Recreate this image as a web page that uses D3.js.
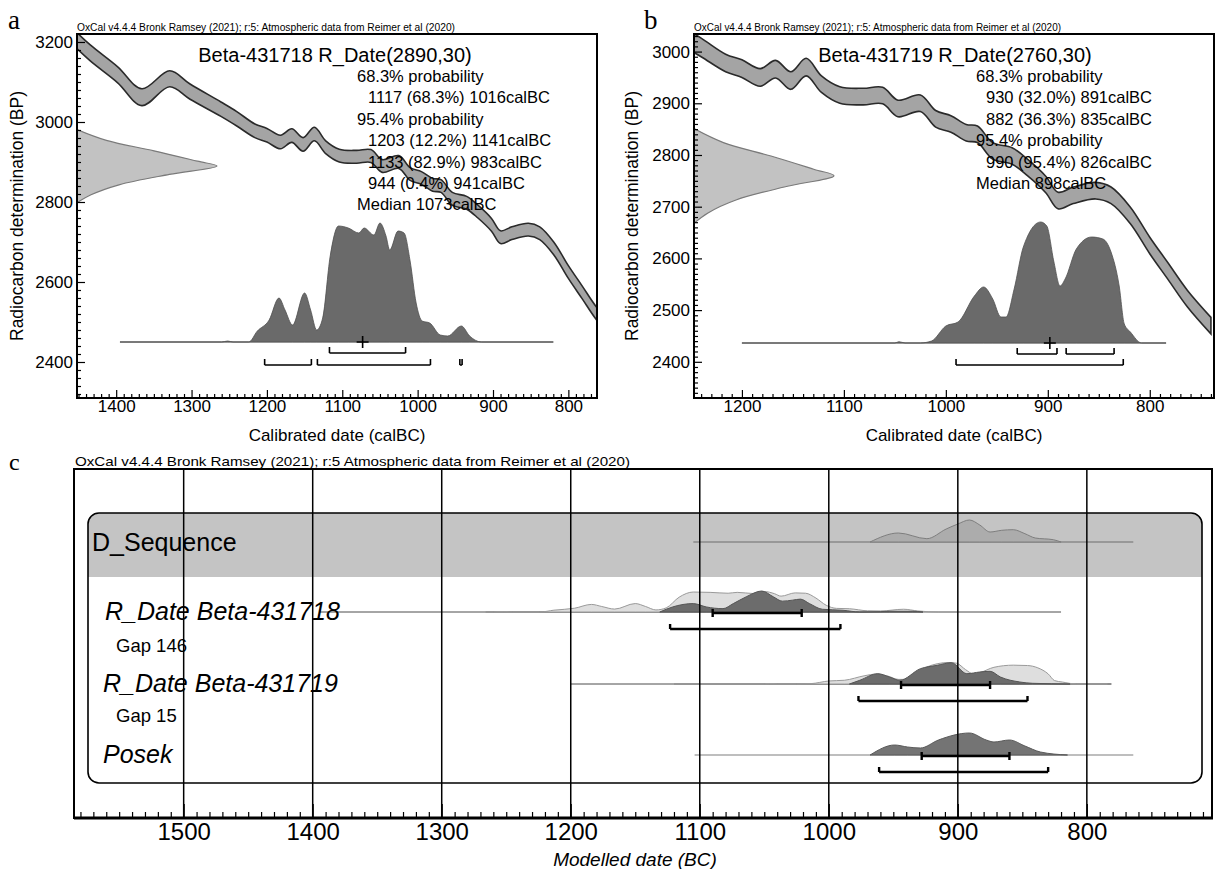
<!DOCTYPE html>
<html>
<head>
<meta charset="utf-8">
<script src="https://cdn.jsdelivr.net/npm/d3@7"></script>
<style>
  body { margin: 0; background: #fff; }
  svg { display: block; font-family: "Liberation Sans", Arial, sans-serif; }
  .tick line { stroke: #000; stroke-width: 1.2; }
  .tick text { fill: #000; }
</style>
</head>
<body>
<svg id="fig" width="1217" height="869"></svg>
<script>
const calYears = [1453, 1434, 1398, 1366, 1329, 1302, 1261, 1240, 1216, 1200, 1182, 1167, 1152, 1137, 1122, 1104, 1081, 1062, 1047, 1025, 1010, 995, 980, 969, 954, 935, 920, 902, 890, 875, 853, 838, 819, 800, 782, 763, 740];
const calBP = [3205, 3172, 3118, 3062, 3108, 3076, 3032, 3008, 2978, 2967, 2950, 2966, 2944, 2970, 2937, 2916, 2913, 2915, 2890, 2900, 2870, 2860, 2843, 2840, 2808, 2798, 2776, 2743, 2712, 2722, 2731, 2722, 2683, 2625, 2575, 2522, 2470];
const calSigma = [20, 20, 20, 21, 20, 19, 18, 18, 17, 17, 17, 17, 17, 17, 16, 16, 16, 16, 16, 16, 16, 16, 16, 16, 16, 16, 16, 16, 16, 16, 16, 16, 16, 16, 16, 16, 16];

// radiocarbon measurement shape (BP offset from the mean, relative density)
const rdOffsets = [-92, -72, -47, -21, 0, 12, 38, 64, 91];
const rdDensity = [0, 0.1, 0.3, 0.66, 1, 0.86, 0.55, 0.21, 0];

// --- Panel a: Beta-431718 ---
const distAYears = [1395, 1260, 1252, 1245, 1224, 1213, 1197, 1184, 1176, 1166, 1150, 1142, 1134, 1126, 1116, 1105, 1092, 1078, 1071, 1058, 1050, 1042, 1037, 1026, 1018, 1010, 1002, 994, 984, 970, 960, 942, 931, 915, 820];
const distAProb = [0, 0, 1, 0, 0, 10.7, 22, 44, 32, 17, 49, 32, 12, 24, 86, 116, 114, 109, 114, 107, 119, 106, 92, 111, 109, 81, 39, 21, 19, 7, 6, 16, 6, 0, 0];
const rangesA68 = [[1117, 1016, 68.3]];
const rangesA95 = [[1203, 1141, 12.2], [1133, 983, 82.9], [944, 941, 0.4]];
const medianA = 1073;
const ticksAX = [1400, 1300, 1200, 1100, 1000, 900, 800];
const ticksAY = [2400, 2600, 2800, 3000, 3200];

// --- Panel b: Beta-431719 ---
const distBYears = [1200, 1050, 1046, 1040, 1025, 1014, 1000, 988, 972, 963, 954, 946, 941, 933, 924, 907, 901, 894, 888, 883, 872, 857, 846, 838, 830, 825, 819, 808, 784];
const distBProb = [0, 0, 1.3, 0, 0, 2, 17, 21, 47, 56, 44, 26, 26, 54, 96, 121, 117, 81, 57, 64, 94, 106, 104, 91, 57, 19, 11, 0, 0];
const rangesB68 = [[930, 891, 32.0], [882, 835, 36.3]];
const rangesB95 = [[990, 826, 95.4]];
const medianB = 898;
const ticksBX = [1200, 1100, 1000, 900, 800];
const ticksBY = [2400, 2500, 2600, 2700, 2800, 2900, 3000];

// --- Panel c: sequence model ---
const seqYears = [968, 946, 924, 909, 900, 891, 883, 875, 866, 857, 848, 840, 826, 820];
const seqProb = [0, 9, 3.3, 13, 18, 22, 17, 10, 11.7, 12.3, 8.3, 4, 2.3, 0];
const post718Years = [1131, 1121, 1105, 1095, 1082, 1074, 1064, 1052, 1043, 1036, 1028, 1022, 1015, 1005, 989, 976, 960, 953, 935, 927];
const post718Prob = [0, 5, 8.3, 5, 3.3, 8.3, 15, 20.7, 15, 10.7, 11.7, 12.7, 8.3, 2.7, 1.7, 0, 0.3, 0.7, 0.7, 0];
const post719Years = [984, 976, 962, 953, 945, 929, 916, 905, 893, 883, 875, 867, 852, 842, 813];
const post719Prob = [0, 3.7, 10.3, 7, 3.7, 15.3, 18.7, 21.3, 10.3, 12, 12.7, 7, 2, 0.7, 0];
const posekYears = [968, 949, 939, 929, 915, 891, 878, 872, 860, 848, 836, 815];
const posekProb = [0, 10, 8, 7, 15, 22, 15, 13, 15, 9, 3, 0];
// [68% from, to], [95% from, to]
const c718Ranges = [[1090, 1021], [1123, 991]];
const c719Ranges = [[944, 875], [977, 846]];
const posekRanges = [[928, 860], [961, 830]];
const ticksCX = [1500, 1400, 1300, 1200, 1100, 1000, 900, 800];

const oxcalNote = "OxCal v4.4.4 Bronk Ramsey (2021); r:5: Atmospheric data from Reimer et al (2020)";
const oxcalNoteC = "OxCal v4.4.4 Bronk Ramsey (2021); r:5 Atmospheric data from Reimer et al (2020)";

const svg = d3.select("#fig");
const defs = svg.append("defs");

function bracket(g, xa, xb, y, up, down, width) {
    g.append("path")
        .attr("d", `M${xa},${y - up}V${y + down}M${xa},${y}H${xb}M${xb},${y - up}V${y + down}`)
        .attr("fill", "none")
        .attr("stroke", "#000")
        .attr("stroke-width", width);
}

function fmtRange(r) {
    return `${r[0]} (${r[2].toFixed(1)}%) ${r[1]}calBC`;
}

// --- Single date calibration panel ---
function drawCalPanel(p) {
    const g = svg.append("g");
    const [x0, x1] = p.x.range();
    const [yb, yt] = p.y.range();

    defs.append("clipPath").attr("id", p.id + "-clip")
        .append("rect").attr("x", x0).attr("y", yt).attr("width", x1 - x0).attr("height", yb - yt);
    const inner = g.append("g").attr("clip-path", `url(#${p.id}-clip)`);

    // measurement on the y axis
    const w = d3.scaleLinear().domain([0, 1]).range([0, 140]);
    inner.append("path")
        .datum(rdOffsets.map((o, i) => [p.bp + o, rdDensity[i]]))
        .attr("d", d3.area().curve(d3.curveCatmullRom)
            .y((d) => p.y(d[0])).x0(x0).x1((d) => x0 + w(d[1])))
        .attr("fill", "#c2c2c2").attr("stroke", "#7a7a7a").attr("stroke-width", 1.2);

    // calibration curve band
    const cal = calYears.map((yr, i) => ({ yr, bp: calBP[i], s: calSigma[i] }));
    inner.append("path")
        .datum(cal)
        .attr("d", d3.area().curve(d3.curveCatmullRom)
            .x((d) => p.x(d.yr)).y0((d) => p.y(d.bp - d.s)).y1((d) => p.y(d.bp + d.s)))
        .attr("fill", "#a4a4a4").attr("stroke", "#2a2a2a").attr("stroke-width", 1.6);

    // calibrated distribution
    const h = d3.scaleLinear().domain([0, d3.max(p.prob)]).range([0, p.peak]);
    const dist = p.years.map((yr, i) => [yr, p.prob[i]]);
    inner.append("line")
        .attr("x1", p.x(p.years[0])).attr("x2", p.x(p.years[p.years.length - 1]))
        .attr("y1", p.base).attr("y2", p.base)
        .attr("stroke", "#8a8a8a").attr("stroke-width", 1.2);
    inner.append("path")
        .datum(dist)
        .attr("d", d3.area().curve(d3.curveMonotoneX)
            .x((d) => p.x(d[0])).y0(p.base).y1((d) => p.base - h(d[1])))
        .attr("fill", "#6a6a6a").attr("stroke", "#505050").attr("stroke-width", 0.8);

    // ranges
    p.r68.forEach((r) => bracket(g, p.x(r[0]), p.x(r[1]), p.b68, 6, 0, 1.6));
    p.r95.forEach((r) => bracket(g, p.x(r[0]), p.x(r[1]), p.b95, 6, 0, 1.6));
    const mx = p.x(p.median);
    g.append("path")
        .attr("d", `M${mx - 6},${p.base}H${mx + 6}M${mx},${p.base - 6}V${p.base + 6}`)
        .attr("stroke", "#000").attr("stroke-width", 1.6);

    // text block
    g.append("text").attr("x", p.titleX).attr("y", 62).attr("text-anchor", "middle")
        .attr("font-size", 20).text(p.title);
    const lines = [["68.3% probability", 0]]
        .concat(p.r68.map((r) => [fmtRange(r), 1]))
        .concat([["95.4% probability", 0]])
        .concat(p.r95.map((r) => [fmtRange(r), 1]))
        .concat([[`Median ${p.median}calBC`, 0]]);
    lines.forEach((l, i) => {
        g.append("text")
            .attr("x", p.textX + (l[1] ? p.indent : 0))
            .attr("y", 82 + i * 21.4)
            .attr("font-size", 16.5)
            .text(l[0]);
    });

    // frame and axes
    g.append("rect").attr("x", x0).attr("y", yt).attr("width", x1 - x0).attr("height", yb - yt)
        .attr("fill", "none").attr("stroke", "#000").attr("stroke-width", 2);

    const [dx0, dx1] = p.x.domain();
    const minorX = d3.range(700, 1500, 10).filter((v) => v < dx0 && v > dx1 && !p.ticksX.includes(v));
    g.append("g").attr("transform", `translate(0,${yb})`)
        .call(d3.axisBottom(p.x).tickValues(minorX).tickSize(-4).tickFormat(""))
        .call((a) => a.select(".domain").remove());
    g.append("g").attr("transform", `translate(0,${yb})`)
        .call(d3.axisBottom(p.x).tickValues(p.ticksX).tickSize(-8).tickPadding(2).tickFormat(d3.format("d")))
        .call((a) => a.select(".domain").remove())
        .selectAll("text").attr("font-size", 17).attr("font-family", "Liberation Sans, Arial, sans-serif");

    const [dy0, dy1] = p.y.domain();
    const minorY = d3.range(2300, 3300, p.minorY).filter((v) => v > dy0 && v < dy1 && !p.ticksY.includes(v));
    g.append("g").attr("transform", `translate(${x0},0)`)
        .call(d3.axisLeft(p.y).tickValues(minorY).tickSize(-4).tickFormat(""))
        .call((a) => a.select(".domain").remove());
    g.append("g").attr("transform", `translate(${x0},0)`)
        .call(d3.axisLeft(p.y).tickValues(p.ticksY).tickSize(-8).tickPadding(4).tickFormat(d3.format("d")))
        .call((a) => a.select(".domain").remove())
        .selectAll("text").attr("font-size", 17).attr("font-family", "Liberation Sans, Arial, sans-serif");

    g.append("text").attr("x", (x0 + x1) / 2).attr("y", 441).attr("text-anchor", "middle")
        .attr("font-size", 17).text("Calibrated date (calBC)");
    g.append("text")
        .attr("transform", `translate(${p.yTitleX},${(yt + yb) / 2}) rotate(-90)`)
        .attr("text-anchor", "middle").attr("font-size", 17.5)
        .text("Radiocarbon determination (BP)");

    g.append("text").attr("x", x0).attr("y", 31).attr("font-size", 10)
        .attr("textLength", p.noteLen).attr("lengthAdjust", "spacingAndGlyphs").text(oxcalNote);
    g.append("text").attr("x", p.letterX).attr("y", 29).attr("font-size", 27)
        .attr("font-family", "Liberation Serif, Times New Roman, serif").text(p.letter);
}

drawCalPanel({
    id: "pa", letter: "a", letterX: 8,
    x: d3.scaleLinear().domain([1452, 762]).range([77, 597]),
    y: d3.scaleLinear().domain([2310, 3220]).range([398, 34]),
    bp: 2890, title: "Beta-431718 R_Date(2890,30)", titleX: 335,
    years: distAYears, prob: distAProb, peak: 119, base: 342,
    r68: rangesA68, r95: rangesA95, median: medianA, b68: 353, b95: 365,
    textX: 357, indent: 11,
    ticksX: ticksAX, ticksY: ticksAY, minorY: 20,
    yTitleX: 23, noteLen: 378
});

drawCalPanel({
    id: "pb", letter: "b", letterX: 644,
    x: d3.scaleLinear().domain([1247, 737]).range([694, 1214]),
    y: d3.scaleLinear().domain([2330, 3034]).range([398, 34]),
    bp: 2760, title: "Beta-431719 R_Date(2760,30)", titleX: 955,
    years: distBYears, prob: distBProb, peak: 121, base: 343,
    r68: rangesB68, r95: rangesB95, median: medianB, b68: 354, b95: 365,
    textX: 976, indent: 10,
    ticksX: ticksBX, ticksY: ticksBY, minorY: 10,
    yTitleX: 638, noteLen: 367
});

// --- Panel c: modelled sequence ---
const xC = d3.scaleLinear().domain([1585, 703]).range([74, 1212]);
const frameC = { top: 469, bottom: 818 };
const boxC = { x: 88, y: 513, w: 1202 - 88, h: 783 - 513, bandBottom: 577 };
const gc = svg.append("g");

defs.append("clipPath").attr("id", "box-clip")
    .append("rect").attr("x", boxC.x).attr("y", boxC.y).attr("width", boxC.w).attr("height", boxC.h).attr("rx", 11);
gc.append("rect").attr("x", boxC.x).attr("y", boxC.y).attr("width", boxC.w)
    .attr("height", boxC.bandBottom - boxC.y).attr("fill", "#c4c4c4").attr("clip-path", "url(#box-clip)");
gc.append("rect").attr("x", boxC.x).attr("y", boxC.y).attr("width", boxC.w).attr("height", boxC.h)
    .attr("rx", 11).attr("fill", "none").attr("stroke", "#000").attr("stroke-width", 1.6);

function cLine(y, from, to, color) {
    gc.append("line").attr("x1", xC(from)).attr("x2", xC(to)).attr("y1", y).attr("y2", y)
        .attr("stroke", color).attr("stroke-width", 1.3);
}
function cDist(y, years, prob, peak, fill, stroke) {
    const h = d3.scaleLinear().domain([0, d3.max(prob)]).range([0, peak]);
    gc.append("path")
        .datum(years.map((yr, i) => [yr, prob[i]]))
        .attr("d", d3.area().curve(d3.curveMonotoneX)
            .x((d) => xC(d[0])).y0(y).y1((d) => y - h(d[1])))
        .attr("fill", fill).attr("stroke", stroke).attr("stroke-width", 1);
}
function cRanges(y, r) {
    bracket(gc, xC(r[0][0]), xC(r[0][1]), y + 1, 4, 4, 2.4);
    bracket(gc, xC(r[1][0]), xC(r[1][1]), y + 17, 5, 0, 2.4);
}

// D_Sequence
const ySeq = 542, y718 = 612, y719 = 684, yPosek = 755;
cLine(ySeq, 1105, 764, "#8a8a8a");
cDist(ySeq, seqYears, seqProb, 22, "#acacac", "#7e7e7e");

// R_Date Beta-431718
cLine(y718, 1395, 820, "#b4b4b4");
cLine(y718, 1266, 927, "#7a7a7a");
cDist(y718, distAYears, distAProb, 20.5, "#dedede", "#9a9a9a");
cDist(y718, post718Years, post718Prob, 21, "#6c6c6c", "#555");
cRanges(y718, c718Ranges);

// R_Date Beta-431719
cLine(y719, 1200, 781, "#b4b4b4");
cLine(y719, 1120, 781, "#7a7a7a");
cDist(y719, distBYears, distBProb, 21.5, "#dedede", "#9a9a9a");
cDist(y719, post719Years, post719Prob, 21.3, "#6c6c6c", "#555");
cRanges(y719, c719Ranges);

// Posek
cLine(yPosek, 1104, 764, "#a8a8a8");
cDist(yPosek, posekYears, posekProb, 22, "#747474", "#5a5a5a");
cRanges(yPosek, posekRanges);

// labels
const cLabels = [
    ["D_Sequence", 92, 551, 25, "normal"],
    ["R_Date Beta-431718", 105, 620, 25, "italic"],
    ["Gap 146", 116, 652, 18.5, "normal"],
    ["R_Date Beta-431719", 103, 692, 25, "italic"],
    ["Gap 15", 116, 722, 18.5, "normal"],
    ["Posek", 103, 763, 25, "italic"]
];
cLabels.forEach((l) => {
    gc.append("text").attr("x", l[1]).attr("y", l[2]).attr("font-size", l[3])
        .attr("font-style", l[4]).text(l[0]);
});

// gridlines on top
gc.selectAll(".grid").data(ticksCX).enter().append("line")
    .attr("x1", (d) => xC(d)).attr("x2", (d) => xC(d))
    .attr("y1", frameC.top).attr("y2", frameC.bottom)
    .attr("stroke", "#000").attr("stroke-width", 1.5);

// frame and axis
gc.append("rect").attr("x", 74).attr("y", frameC.top).attr("width", 1212 - 74)
    .attr("height", frameC.bottom - frameC.top).attr("fill", "none").attr("stroke", "#000").attr("stroke-width", 2);
const minorC = d3.range(710, 1590, 10).filter((v) => !ticksCX.includes(v));
gc.append("g").attr("transform", `translate(0,${frameC.bottom})`)
    .call(d3.axisBottom(xC).tickValues(minorC).tickSize(-6).tickFormat(""))
    .call((a) => a.select(".domain").remove());
gc.append("g").attr("transform", `translate(0,${frameC.bottom})`)
    .call(d3.axisBottom(xC).tickValues(ticksCX).tickSize(-14).tickPadding(5).tickFormat(d3.format("d")))
    .call((a) => a.select(".domain").remove())
    .selectAll("text").attr("font-size", 24).attr("font-family", "Liberation Sans, Arial, sans-serif");
gc.append("line").attr("x1", 74).attr("x2", 1213).attr("y1", frameC.bottom).attr("y2", frameC.bottom)
    .attr("stroke", "#000").attr("stroke-width", 3);

gc.append("text").attr("x", 635).attr("y", 866).attr("text-anchor", "middle")
    .attr("font-size", 19).attr("font-style", "italic").text("Modelled date (BC)");
gc.append("text").attr("x", 75).attr("y", 466).attr("font-size", 13)
    .attr("textLength", 555).attr("lengthAdjust", "spacingAndGlyphs").text(oxcalNoteC);
gc.append("text").attr("x", 9).attr("y", 470).attr("font-size", 24)
    .attr("font-family", "Liberation Serif, Times New Roman, serif").text("c");
</script>
</body>
</html>
